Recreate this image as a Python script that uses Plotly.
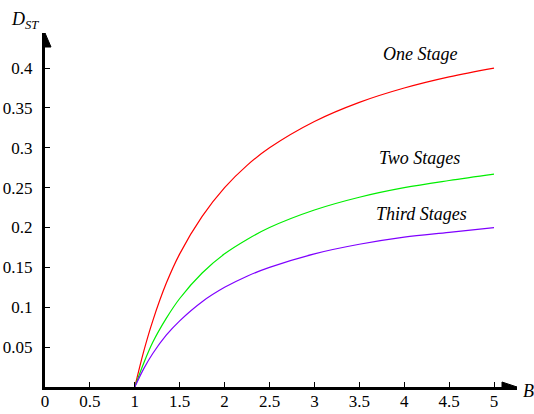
import plotly.graph_objects as go

B = [1, 1.1, 1.2, 1.35, 1.5, 1.75, 2, 2.25, 2.5, 3, 3.5, 4, 4.5, 5]
one_stage = [0, 0.045, 0.083, 0.130, 0.167, 0.214, 0.250, 0.278, 0.300, 0.333, 0.357, 0.375, 0.389, 0.400]
two_stages = [0, 0.030, 0.056, 0.086, 0.111, 0.143, 0.167, 0.185, 0.200, 0.222, 0.238, 0.250, 0.259, 0.267]
third_stages = [0, 0.023, 0.042, 0.065, 0.083, 0.107, 0.125, 0.139, 0.150, 0.167, 0.179, 0.188, 0.194, 0.200]

x_ticks = [0, 0.5, 1, 1.5, 2, 2.5, 3, 3.5, 4, 4.5, 5]
x_labels = ["0", "0.5", "1", "1.5", "2", "2.5", "3", "3.5", "4", "4.5", "5"]
y_ticks = [0.05, 0.1, 0.15, 0.2, 0.25, 0.3, 0.35, 0.4]
y_labels = ["0.05", "0.1", "0.15", "0.2", "0.25", "0.3", "0.35", "0.4"]

X_MAX = 5.256
Y_MAX = 0.444
FONT = "Liberation Serif"

fig = go.Figure()
for name, ys, col in [("One Stage", one_stage, "#ff0000"),
                      ("Two Stages", two_stages, "#00ee00"),
                      ("Third Stages", third_stages, "#7f00ff")]:
    fig.add_trace(go.Scatter(x=B, y=ys, mode="lines", name=name,
                             line=dict(color=col, width=1.2, shape="spline"),
                             showlegend=False))

labels = [("One Stage", 4.176, 0.4176), ("Two Stages", 4.165, 0.2871), ("Third Stages", 4.193, 0.2169)]
for txt, lx, ly in labels:
    fig.add_annotation(x=lx, y=ly, text="<i>" + txt + "</i>", showarrow=False,
                       font=dict(family=FONT, size=18, color="black"))

fig.add_annotation(xref="paper", yref="paper", x=-0.042, y=1.034, xanchor="center", yanchor="middle",
                   text="<i>D<sub>ST</sub></i>", showarrow=False,
                   font=dict(family=FONT, size=18, color="black"))
fig.add_annotation(xref="paper", yref="y", x=1.0, y=0, xanchor="left", yanchor="middle",
                   xshift=4, yshift=-4,
                   text="<i>B</i>", showarrow=False,
                   font=dict(family=FONT, size=18, color="black"))

# arrowheads
fig.add_shape(type="path", xref="x", yref="y", xsizemode="pixel", ysizemode="pixel",
              xanchor=X_MAX, yanchor=0, path="M 0 0 L -15 5 L -15 -5 Z",
              fillcolor="black", line=dict(color="black", width=1))
fig.add_shape(type="path", xref="x", yref="y", xsizemode="pixel", ysizemode="pixel",
              xanchor=0, yanchor=Y_MAX, path="M 0 0 L -6 -14 L 6 -14 Z",
              fillcolor="black", line=dict(color="black", width=1))

fig.update_xaxes(range=[0, X_MAX], showgrid=False, zeroline=False, showline=True, automargin=False,
                 linecolor="black", linewidth=3, ticks="inside", ticklen=5, tickcolor="black",
                 tickvals=x_ticks, ticktext=x_labels, ticklabelstandoff=-3,
                 tickfont=dict(family=FONT, size=17, color="black"))
fig.update_yaxes(range=[0, Y_MAX], showgrid=False, zeroline=False, showline=True, automargin=False,
                 linecolor="black", linewidth=3, ticks="inside", ticklen=5, tickcolor="black",
                 tickvals=y_ticks, ticktext=y_labels, ticklabelstandoff=6,
                 tickfont=dict(family=FONT, size=17, color="black"))

fig.update_layout(width=534, height=414, margin=dict(l=45, r=17, t=33, b=27, autoexpand=False),
                  plot_bgcolor="white", paper_bgcolor="white", font=dict(family=FONT))
fig.write_html("out.html", config={"displayModeBar": False},
               post_script="document.body.style.margin='0';")
